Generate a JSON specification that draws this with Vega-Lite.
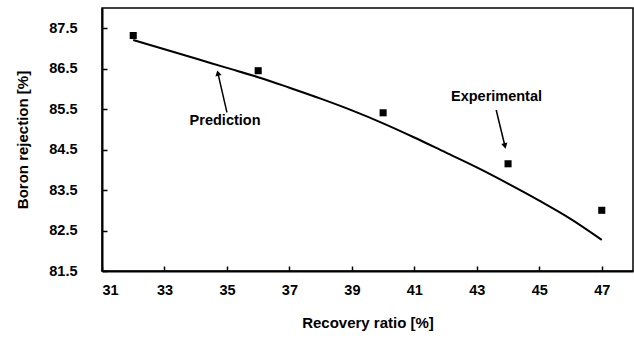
{
  "$schema": "https://vega.github.io/schema/vega-lite/v6.json",
  "width": 531,
  "height": 263,
  "autosize": {"type": "none"},
  "padding": {"left": 102, "top": 8, "right": 1, "bottom": 69},
  "background": "white",
  "config": {
    "view": {"stroke": "black", "strokeWidth": 1.5},
    "font": "Liberation Sans",
    "axis": {
      "grid": false,
      "domainColor": "black",
      "domainWidth": 2,
      "tickColor": "black",
      "tickWidth": 1.5,
      "tickSize": -5,
      "labelFont": "Liberation Sans",
      "labelFontWeight": "bold",
      "labelFontSize": 14.5,
      "labelColor": "black",
      "titleFont": "Liberation Sans",
      "titleFontWeight": "bold",
      "titleFontSize": 15,
      "titleColor": "black"
    }
  },
  "datasets": {
    "experimental": [
      {"recovery": 32, "rejection": 87.32},
      {"recovery": 36, "rejection": 86.45},
      {"recovery": 40, "rejection": 85.41},
      {"recovery": 44, "rejection": 84.15},
      {"recovery": 47, "rejection": 83.0}
    ],
    "prediction": [
      {"recovery": 32, "rejection": 87.21},
      {"recovery": 33, "rejection": 86.98},
      {"recovery": 34, "rejection": 86.75},
      {"recovery": 35, "rejection": 86.52},
      {"recovery": 36, "rejection": 86.29},
      {"recovery": 37, "rejection": 86.03},
      {"recovery": 38, "rejection": 85.76},
      {"recovery": 39, "rejection": 85.47},
      {"recovery": 40, "rejection": 85.15},
      {"recovery": 41, "rejection": 84.8},
      {"recovery": 42, "rejection": 84.43},
      {"recovery": 43, "rejection": 84.06},
      {"recovery": 44, "rejection": 83.66},
      {"recovery": 45, "rejection": 83.24},
      {"recovery": 46, "rejection": 82.79},
      {"recovery": 47, "rejection": 82.27}
    ],
    "annotations": [
      {"label": "Prediction", "tx": 34.94, "ty": 85.2, "x1": 35.0, "y1": 85.42, "x2": 34.71, "y2": 86.39},
      {"label": "Experimental", "tx": 43.63, "ty": 85.81, "x1": 43.62, "y1": 85.48, "x2": 43.9, "y2": 84.59}
    ]
  },
  "layer": [
    {
      "data": {"name": "prediction"},
      "mark": {"type": "line", "color": "black", "strokeWidth": 2, "interpolate": "monotone"},
      "encoding": {
        "x": {
          "field": "recovery", "type": "quantitative",
          "scale": {"domain": [31, 48], "nice": false, "zero": false},
          "axis": {"values": [31, 33, 35, 37, 39, 41, 43, 45, 47], "title": "Recovery ratio [%]", "labelPadding": 17, "titlePadding": 19}
        },
        "y": {
          "field": "rejection", "type": "quantitative",
          "scale": {"domain": [81.5, 88], "nice": false, "zero": false},
          "axis": {"values": [81.5, 82.5, 83.5, 84.5, 85.5, 86.5, 87.5], "format": ".1f", "title": "Boron rejection [%]", "labelPadding": 30, "titlePadding": 18}
        }
      }
    },
    {
      "data": {"name": "experimental"},
      "mark": {"type": "point", "shape": "square", "filled": true, "color": "black", "size": 50, "opacity": 1},
      "encoding": {
        "x": {"field": "recovery", "type": "quantitative"},
        "y": {"field": "rejection", "type": "quantitative"}
      }
    },
    {
      "data": {"name": "annotations"},
      "mark": {"type": "rule", "color": "black", "strokeWidth": 1.5},
      "encoding": {
        "x": {"field": "x1", "type": "quantitative"},
        "y": {"field": "y1", "type": "quantitative"},
        "x2": {"field": "x2"},
        "y2": {"field": "y2"}
      }
    },
    {
      "data": {"name": "annotations"},
      "transform": [{"filter": "datum.label === 'Prediction'"}],
      "mark": {"type": "point", "shape": "triangle-up", "filled": true, "color": "black", "size": 40, "opacity": 1, "angle": 346.6},
      "encoding": {
        "x": {"field": "x2", "type": "quantitative"},
        "y": {"field": "y2", "type": "quantitative"}
      }
    },
    {
      "data": {"name": "annotations"},
      "transform": [{"filter": "datum.label === 'Experimental'"}],
      "mark": {"type": "point", "shape": "triangle-up", "filled": true, "color": "black", "size": 40, "opacity": 1, "angle": 166.5},
      "encoding": {
        "x": {"field": "x2", "type": "quantitative"},
        "y": {"field": "y2", "type": "quantitative"}
      }
    },
    {
      "data": {"name": "annotations"},
      "mark": {"type": "text", "font": "Liberation Sans", "fontWeight": "bold", "fontSize": 14.5, "color": "black", "align": "center", "baseline": "middle"},
      "encoding": {
        "x": {"field": "tx", "type": "quantitative"},
        "y": {"field": "ty", "type": "quantitative"},
        "text": {"field": "label"}
      }
    }
  ]
}
